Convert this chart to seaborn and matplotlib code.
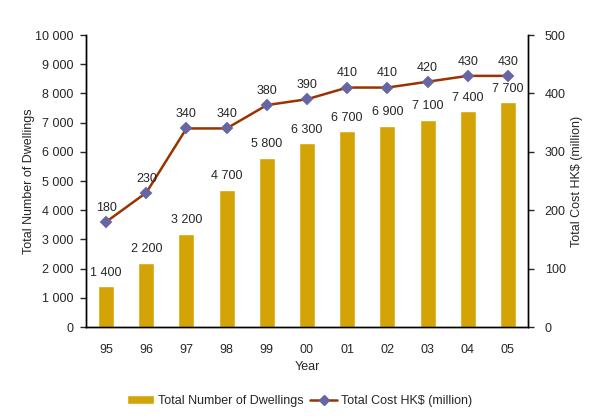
import matplotlib
matplotlib.use("Agg")
import matplotlib.pyplot as plt
import seaborn as sns
import pandas as pd
from matplotlib.ticker import FuncFormatter
from matplotlib.patches import Patch
from matplotlib.lines import Line2D

years = ["95", "96", "97", "98", "99", "00", "01", "02", "03", "04", "05"]
dwellings = [1400, 2200, 3200, 4700, 5800, 6300, 6700, 6900, 7100, 7400, 7700]
cost = [180, 230, 340, 340, 380, 390, 410, 410, 420, 430, 430]

bar_col = "#D4A306"
line_col = "#993300"
mark_col = "#6666A3"

sns.set_style("white")
plt.rcParams["font.family"] = ["Liberation Sans", "DejaVu Sans"]
plt.rcParams["font.size"] = 9

df = pd.DataFrame({"year": years, "dwellings": dwellings, "cost": cost})

fig = plt.figure(figsize=(5.99, 4.19), dpi=100)
ax = fig.add_axes([86 / 599, 92 / 419, 442 / 599, 292 / 419])
sns.barplot(data=df, x="year", y="dwellings", color=bar_col, width=0.4,
            saturation=1, ax=ax)
ax.set_ylim(0, 10000)
ax.set_yticks(range(0, 10001, 1000))
fmt = lambda v, p: f"{int(v):,}".replace(",", " ")
ax.yaxis.set_major_formatter(FuncFormatter(fmt))
ax.set_xlabel("Year", labelpad=4)
ax.set_ylabel("Total Number of Dwellings", labelpad=0)
ax.tick_params(axis="x", length=0, pad=12)
ax.tick_params(axis="y", length=4, width=1, direction="out", left=True, pad=5)
for i, v in enumerate(dwellings):
    ax.text(i, v + 250, fmt(v, None), ha="center", va="bottom")

ax2 = ax.twinx()
sns.pointplot(data=df, x="year", y="cost", color=line_col, markers="D",
              linewidth=1.8, markersize=5.5, ax=ax2)
for ln in ax2.lines:
    ln.set_markerfacecolor(mark_col)
    ln.set_markeredgecolor(mark_col)
ax2.set_ylim(0, 500)
ax2.set_yticks(range(0, 501, 100))
ax2.set_ylabel("Total Cost HK$ (million)", labelpad=4)
ax2.tick_params(axis="y", length=4, width=1, direction="out", right=True, pad=8)
for i, v in enumerate(cost):
    ax2.text(i, v + 14, str(v), ha="center", va="bottom")

for a in (ax, ax2):
    for s in a.spines.values():
        s.set_color("black")
        s.set_linewidth(1)
ax2.spines["top"].set_visible(False)
ax.spines["top"].set_visible(False)
ax.set_xlim(-0.5, len(years) - 0.5)

handles = [Patch(facecolor=bar_col, label="Total Number of Dwellings"),
           Line2D([], [], color=line_col, lw=1.8, marker="D", markersize=5.5,
                  markerfacecolor=mark_col, markeredgecolor=mark_col,
                  label="Total Cost HK$ (million)")]
fig.legend(handles=handles, loc="center", bbox_to_anchor=(0.5, 18 / 419),
           ncol=2, frameon=False, handlelength=2.2, handletextpad=0.3,
           columnspacing=0.5)

fig.savefig("out.png", dpi=100)
